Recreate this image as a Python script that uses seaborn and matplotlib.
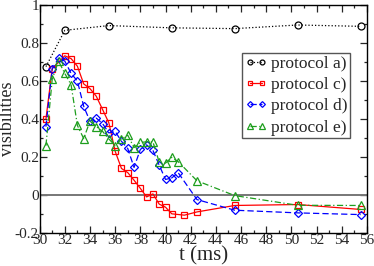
import pandas as pd
import matplotlib
matplotlib.use("Agg")
import matplotlib.pyplot as plt
import seaborn as sns
from matplotlib.ticker import MultipleLocator

# protocol a)
t_a = [30.5, 32.0, 35.5, 40.5, 45.5, 50.5, 55.5]
v_a = [0.676, 0.867, 0.892, 0.880, 0.876, 0.895, 0.888]

# protocol c)
t_c = [30.5, 31.0, 32.0, 32.5, 33.0, 33.5, 34.0, 34.5, 35.0, 35.5, 36.0, 36.5,
       37.0, 37.5, 38.0, 38.5, 39.0, 39.5, 40.0, 40.5, 41.5, 42.5, 45.5, 50.5, 55.5]
v_c = [0.40, 0.665, 0.733, 0.718, 0.678, 0.585, 0.56, 0.52, 0.45, 0.38, 0.23, 0.14,
       0.118, 0.078, 0.035, -0.01, 0.006, -0.048, -0.064, -0.099, -0.106, -0.089,
       -0.055, -0.05, -0.076]

# protocol d)
t_d = [30.5, 31.0, 31.5, 32.0, 32.5, 33.0, 33.5, 34.0, 34.5, 35.0, 35.5, 36.0, 36.5,
       37.0, 37.5, 38.0, 38.5, 39.0, 39.5, 40.0, 40.5, 41.0, 42.5, 45.5, 50.5, 55.5]
v_d = [0.36, 0.665, 0.72, 0.705, 0.64, 0.60, 0.467, 0.388, 0.405, 0.376, 0.327, 0.335,
       0.283, 0.245, 0.145, 0.24, 0.264, 0.235, 0.157, 0.082, 0.09, 0.118, -0.024,
       -0.08, -0.094, -0.103]

# protocol e)
t_e = [30.5, 31.0, 31.5, 32.0, 32.5, 33.0, 33.5, 34.0, 34.5, 35.0, 35.5, 36.0, 36.5,
       37.0, 37.5, 38.0, 38.5, 39.0, 39.5, 40.0, 40.5, 41.0, 42.5, 45.5, 50.5, 55.5]
v_e = [0.26, 0.61, 0.705, 0.64, 0.58, 0.366, 0.297, 0.389, 0.36, 0.335, 0.295, 0.26,
       0.295, 0.315, 0.25, 0.277, 0.28, 0.28, 0.173, 0.168, 0.198, 0.176, 0.075,
       -0.003, -0.054, -0.055]

sns.set_style("ticks")
plt.rcParams["font.family"] = ["Liberation Serif", "DejaVu Serif"]
plt.rcParams["xtick.direction"] = "in"
plt.rcParams["ytick.direction"] = "in"

fig = plt.figure(figsize=(3.74, 2.66), dpi=100)
ax = fig.add_axes([0.106, 0.124, 0.875, 0.857])

ax.axhline(0, color="#777777", lw=1.4, zorder=1)

series = [
    (t_a, v_a, "protocol a)", "black", "o", ":", 5.0),
    (t_c, v_c, "protocol c)", "red", "s", "-", 5.0),
    (t_d, v_d, "protocol d)", "blue", "D", (0, (5, 2.5)), 4.2),
    (t_e, v_e, "protocol e)", "#1e9e1e", "^", (0, (5, 2, 1, 2)), 5.2),
]
for t, v, name, col, mk, ls, ms in series:
    df = pd.DataFrame({"t": t, "v": v})
    sns.lineplot(data=df, x="t", y="v", ax=ax, color=col, marker=mk, linestyle=ls,
                 lw=0.9, markersize=ms, markerfacecolor="none", markeredgecolor=col,
                 markeredgewidth=0.9, label=name, zorder=3)

ax.set_xlim(30, 56)
ax.set_ylim(-0.2, 1.0)
ax.xaxis.set_major_locator(MultipleLocator(2))
ax.xaxis.set_minor_locator(MultipleLocator(1))
ax.yaxis.set_minor_locator(MultipleLocator(0.1))
ax.set_yticks([-0.2, 0, 0.2, 0.4, 0.6, 0.8, 1.0])
ax.set_yticklabels(["-0.2", "0", "0.2", "0.4", "0.6", "0.8", "1"])
ax.tick_params(which="both", top=True, right=True, labelsize=11, width=0.9, pad=0.5)
ax.tick_params(which="major", length=5)
ax.tick_params(which="minor", length=2.5)
for s in ax.spines.values():
    s.set_linewidth(1.0)
    s.set_color("black")

ax.set_xlabel("t (ms)", fontsize=15, labelpad=0)
ax.set_ylabel("visibilities", fontsize=13, labelpad=-1)

leg = ax.legend(loc="upper right", bbox_to_anchor=(0.948, 0.79), fontsize=12.5,
                frameon=True, fancybox=False, edgecolor="#555555", framealpha=1,
                handlelength=1.3, handletextpad=0.2, borderpad=0.15, labelspacing=0.3,
                borderaxespad=0, numpoints=2, markerscale=0.7)
leg.get_frame().set_linewidth(1.0)

fig.savefig("out.png", dpi=100)
